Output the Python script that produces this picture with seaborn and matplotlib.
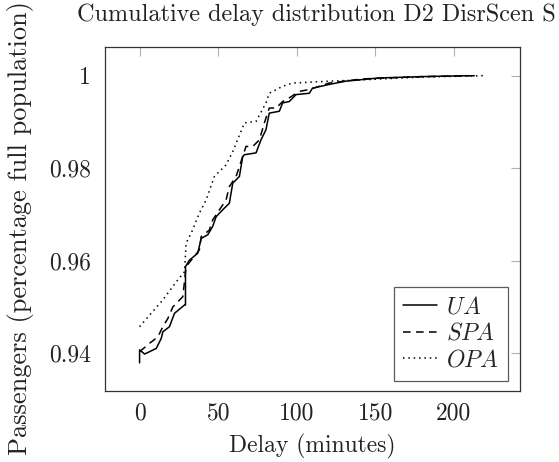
import numpy as np
import pandas as pd
import matplotlib
matplotlib.use("Agg")
import matplotlib.pyplot as plt
import seaborn as sns

# delay (minutes) and cumulative share of passengers
ua_x = [0, 0, 3.2, 10.6, 13.8, 14.8, 19, 22.2, 28.6, 29.2, 29.2, 31.7, 37, 39.2, 43.4,
        46.5, 48.7, 52.9, 57.1, 59.3, 60.3, 63.5, 65.6, 66.7, 74.1, 77.2, 80.4, 82.5,
        88.9, 91, 95.2, 99.5, 108, 110, 120.6, 131, 152, 180, 209.5]
ua_y = [0.9379, 0.9407, 0.9398, 0.9410, 0.9432, 0.9446, 0.9457, 0.9486, 0.9504, 0.9504,
        0.9587, 0.9601, 0.9616, 0.9648, 0.9656, 0.9674, 0.9695, 0.9710, 0.9724, 0.9768,
        0.9771, 0.9782, 0.9825, 0.9829, 0.9833, 0.9861, 0.9883, 0.9919, 0.9923, 0.9941,
        0.9944, 0.9959, 0.9962, 0.9973, 0.9981, 0.9988, 0.9995, 0.9998, 1.0]

spa_x = [0, 6.3, 11.6, 14.8, 18, 21.2, 27.5, 29.6, 38, 39.2, 44.4, 46.5, 50.8, 55, 57.1,
         61.4, 67.7, 72, 76.2, 79.4, 82.5, 86.8, 91, 95.2, 101.6, 108, 120.6, 141.8, 180, 214.6]
spa_y = [0.9403, 0.9421, 0.9435, 0.9457, 0.9475, 0.9500, 0.9522, 0.9587, 0.9623, 0.9652,
         0.9666, 0.9688, 0.9710, 0.9731, 0.9760, 0.9782, 0.9847, 0.9847, 0.9861, 0.9898,
         0.9930, 0.9930, 0.9944, 0.9952, 0.9966, 0.9970, 0.9984, 0.9993, 0.9998, 1.0]

opa_x = [0, 6.3, 14.8, 23.3, 28.6, 29.6, 32.8, 38.1, 42.3, 47.6, 55, 59.3, 66.7, 74.1,
         80.4, 82.5, 91, 97.4, 120.6, 141.8, 180, 219]
opa_y = [0.9457, 0.9482, 0.9515, 0.9554, 0.9576, 0.9638, 0.9659, 0.9703, 0.9731, 0.9782,
         0.9807, 0.9836, 0.9898, 0.9901, 0.9941, 0.9962, 0.9977, 0.9984, 0.9988, 0.9991,
         0.9997, 1.0]

x_ticks = [0, 50, 100, 150, 200]
y_ticks = [0.94, 0.96, 0.98, 1.0]
y_tick_labels = ["0.94", "0.96", "0.98", "1"]

sns.set_theme(style="white")
plt.rcParams["font.family"] = ["cmr10", "DejaVu Serif"]
plt.rcParams["mathtext.fontset"] = "cm"
plt.rcParams["axes.formatter.use_mathtext"] = True

df = pd.concat([
    pd.DataFrame({"delay": ua_x, "share": ua_y, "method": "$UA$"}),
    pd.DataFrame({"delay": spa_x, "share": spa_y, "method": "$SPA$"}),
    pd.DataFrame({"delay": opa_x, "share": opa_y, "method": "$OPA$"}),
], ignore_index=True)

FS = 17
W, H = 559, 462
fig = plt.figure(figsize=(W / 100, H / 100), dpi=100)
ax = fig.add_axes([105 / W, (H - 391) / H, 415 / W, 344 / H])

sns.lineplot(data=df, x="delay", y="share", style="method", color="black",
             dashes={"$UA$": "", "$SPA$": (5, 3.5), "$OPA$": (1, 2.5)},
             estimator=None, sort=False, linewidth=1.1, ax=ax)

ax.set_xlim(-22, 242)
ax.set_ylim(0.9318, 1.0062)
ax.set_xticks(x_ticks)
ax.set_xticklabels([str(t) for t in x_ticks])
ax.set_yticks(y_ticks)
ax.set_yticklabels(y_tick_labels)
ax.tick_params(direction="in", length=6.5, width=0.8, color="#b0b0b0",
               top=True, right=True, labelsize=FS, labelcolor="#222222")
ax.tick_params(axis="y", pad=10)
ax.tick_params(axis="x", pad=8)
for s in ax.spines.values():
    s.set_color("#333333")
    s.set_linewidth(0.9)

ax.set_xlabel("Delay (minutes)", fontsize=FS, color="#222222")
ax.set_ylabel("Passengers (percentage full population)", fontsize=19, color="#222222")
ax.xaxis.set_label_coords(0.5, -0.125)
ax.yaxis.set_label_coords(-0.172, 0.474)

leg = ax.legend(loc="lower right", bbox_to_anchor=(0.97, 0.03), borderaxespad=0,
                fontsize=17, frameon=True, fancybox=False, handlelength=1.45,
                handletextpad=0.4, labelspacing=0.2, borderpad=0.38, title=None)
leg.get_frame().set_edgecolor("#333333")
leg.get_frame().set_linewidth(0.9)

fig.text(77 / W, 1 - 21 / H, "Cumulative delay distribution D2 DisrScen S",
         fontsize=17.4, ha="left", va="baseline", color="#222222")

fig.savefig("out.png", dpi=100)
